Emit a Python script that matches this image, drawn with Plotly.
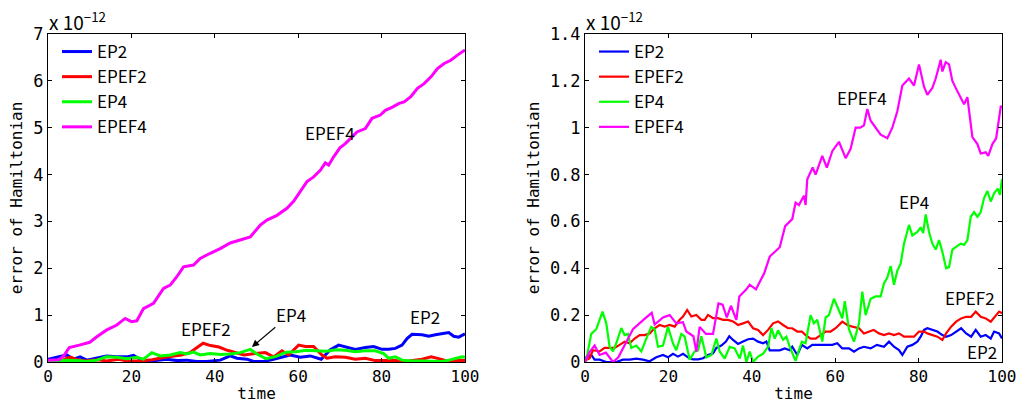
import plotly.graph_objects as go

# ---------------- data (error values in units of 1e-12) ----------------
# Left panel
L_ep2_t = [0, 2.1, 4.5, 6.1, 7.7, 9.3, 11.7, 14, 16.5, 18.9, 20.5, 22.1, 23.7, 26, 28.5, 30.9, 33.3, 35.7, 38, 41.3,
           43.7, 45.3, 47.7, 49.3, 51.7, 54.1, 56.5, 58.1, 60.5, 62.9, 65.5, 67.7, 69.7, 71.3, 73.7, 76.1, 78.1, 80.1,
           81.7, 83.3, 84.9, 86.1, 87.3, 89.7, 91.3, 92.9, 94.5, 96.1, 97.3, 98.5, 100]
L_ep2_v = [0.06, 0.1, 0.15, 0.06, 0.11, 0.04, 0.08, 0.13, 0.11, 0.11, 0.14, 0.06, 0.01, 0.03, 0.06, 0.03, 0.04, 0.01,
           0.01, 0.04, 0.13, 0.08, 0.06, 0.01, 0.01, 0.06, 0.11, 0.15, 0.1, 0.13, 0.06, 0.26, 0.36, 0.33, 0.27, 0.31,
           0.33, 0.27, 0.27, 0.29, 0.36, 0.50, 0.59, 0.58, 0.55, 0.58, 0.61, 0.63, 0.55, 0.53, 0.6]

L_epef2_t = [0, 3, 4.5, 5.5, 7, 9, 12, 14, 17, 19, 22, 25, 28, 30, 32, 34, 36, 37.2, 39, 41, 43, 45, 47, 49.7, 52.1,
             54.1, 56.1, 57.7, 60.1, 61.7, 63.7, 65.7, 66.9, 68.9, 71.3, 73.7, 76.1, 78.5, 80.9, 83.3, 85.7, 88.1,
             89.7, 91.9, 93.5, 95.1, 97.1, 98.5, 100]
L_epef2_v = [0, 0.01, 0.08, 0.1, 0.05, 0.02, 0.05, 0.02, 0.06, 0.02, 0.02, 0.05, 0.1, 0.13, 0.15, 0.2, 0.33, 0.4, 0.35,
             0.32, 0.25, 0.2, 0.15, 0.18, 0.2, 0.11, 0.24, 0.15, 0.36, 0.33, 0.33, 0.15, 0.08, 0.11, 0.1, 0.06, 0.08,
             0.03, 0.03, 0.03, 0.01, 0.04, 0.06, 0.11, 0.08, 0.04, 0.03, 0.04, 0.03]

L_ep4_t = [0, 4.5, 6.9, 9.3, 11.7, 14, 16.5, 18.9, 21.3, 22.9, 24.9, 26.9, 29.3, 31.7, 33.3, 34.9, 36.5, 38.9, 41.3,
           43.7, 46.1, 48.5, 50.1, 52.3, 54.7, 57.1, 59.5, 61.9, 64.3, 66.7, 69.1, 71.3, 73.7, 76.1, 78.5, 80.5, 81.7,
           83.3, 84.9, 87.3, 89.7, 92.1, 94.5, 96.1, 97.7, 99.3, 100]
L_ep4_v = [0.01, 0.04, 0.03, 0.01, 0.04, 0.11, 0.10, 0.07, 0.10, 0.06, 0.2, 0.13, 0.15, 0.2, 0.17, 0.21, 0.15, 0.18,
           0.16, 0.17, 0.2, 0.27, 0.17, 0.07, 0.12, 0.21, 0.22, 0.25, 0.24, 0.23, 0.26, 0.25, 0.22, 0.24, 0.24, 0.18,
           0.08, 0.11, 0.04, 0.02, 0.02, 0.02, 0.01, 0.04, 0.08, 0.11, 0.1]

L_epef4_t = [0, 2.7, 3.9, 5.1, 7.5, 10, 11.7, 14, 16.5, 18.5, 20, 21.3, 22.9, 25.3, 27.7, 29.3, 30.9, 32.5, 34.9, 36.5,
             38.9, 41.3, 43.7, 46.1, 48.5, 50.9, 52.5, 54.9, 57.3, 58.9, 60.5, 62.1, 63.7, 65.3, 66.5, 67.3, 68.5, 70,
             71.3, 72.5, 74.1, 76.1, 77.7, 79.7, 80.9, 82.6, 84.2, 85.4, 87, 88.6, 90.2, 91.8, 93.4, 95, 96.6, 98.2, 100]
L_epef4_v = [0.04, 0.05, 0.15, 0.31, 0.36, 0.42, 0.54, 0.68, 0.79, 0.93, 0.86, 0.88, 1.14, 1.25, 1.57, 1.64, 1.82,
             2.03, 2.07, 2.21, 2.32, 2.42, 2.54, 2.60, 2.67, 2.92, 3.03, 3.13, 3.28, 3.43, 3.63, 3.85, 3.95, 4.09, 4.25,
             4.2, 4.38, 4.57, 4.66, 4.77, 4.91, 4.98, 5.2, 5.27, 5.37, 5.44, 5.52, 5.55, 5.66, 5.84, 5.94, 6.08, 6.26,
             6.37, 6.44, 6.55, 6.66]

# Right panel
R_ep2_t = [0, 0.3, 1.5, 2.3, 3.5, 5.1, 7.5, 9.1, 10.7, 12.3, 13.9, 15.5, 17.1, 18.7, 19.9, 21.1, 22.3, 23.5, 24.7,
           25.9, 27.1, 28.3, 29.5, 30.7, 31.5, 32.7, 33.8, 34.6, 35.5, 36.7, 37.9, 39.1, 40.3, 41.5, 42.7, 43.5, 44.3,
           45.5, 46.7, 47.9, 49.1, 49.7, 50.9, 52, 53.3, 54.5, 56.1, 57.7, 59.3, 60.5, 61.7, 63.3, 64.5, 65.7, 66.9,
           68.5, 70, 71.7, 72.9, 74.1, 75.3, 76.1, 77.3, 78.5, 79.7, 80.5, 81.3, 82.1, 83.3, 84.5, 85.7, 86.6, 87.8,
           89, 90.2, 91.4, 92.6, 93.7, 94.9, 96.1, 97.3, 98.1, 99.3, 100]
R_ep2_v = [0, 0.02, 0.03, 0.01, 0.01, 0, 0, 0.01, 0.01, 0.014, 0.01, 0.003, 0.02, 0.03, 0.02, 0.035, 0.023, 0.035,
           0.02, 0.011, 0.011, 0.016, 0.03, 0.037, 0.06, 0.07, 0.087, 0.11, 0.094, 0.077, 0.087, 0.097, 0.1, 0.087,
           0.08, 0.087, 0.05, 0.05, 0.05, 0.058, 0.05, 0.065, 0.03, 0.073, 0.058, 0.073, 0.073, 0.073, 0.073, 0.08,
           0.058, 0.058, 0.044, 0.058, 0.065, 0.058, 0.073, 0.065, 0.087, 0.065, 0.051, 0.03, 0.065, 0.073, 0.087,
           0.108, 0.137, 0.144, 0.137, 0.13, 0.115, 0.108, 0.115, 0.13, 0.144, 0.122, 0.108, 0.137, 0.108, 0.115,
           0.1, 0.13, 0.122, 0.1]

R_epef2_t = [0, 0.3, 1.1, 1.9, 3.5, 4.7, 5.9, 7.1, 8.3, 9.5, 10.7, 11.9, 13.1, 14.3, 15.5, 16.7, 17.9, 19.1, 20.3,
             21.5, 22.7, 23.5, 24.5, 25.5, 26.7, 27.9, 28.7, 29.5, 30.7, 31.9, 33.1, 34.3, 35.5, 36.7, 37.9, 39.1,
             40.3, 41.5, 42.7, 43.9, 45.1, 46.3, 47.5, 48.7, 49.7, 50.9, 52, 52.9, 54.1, 55.3, 56.5, 57.7, 58.9, 60.1,
             61.7, 62.9, 64.1, 65.7, 66.9, 68.1, 69.2, 70.5, 71.7, 72.9, 74.1, 75.3, 76.5, 77.7, 78.9, 80.1, 81.3,
             82.1, 83.3, 84.5, 85.7, 86.6, 87.8, 89, 90.2, 91.4, 92.6, 93.7, 94.9, 96.1, 97.3, 98.5, 99.3, 100]
R_epef2_v = [0, 0.009, 0.016, 0.05, 0.045, 0.06, 0.06, 0.06, 0.073, 0.087, 0.08, 0.1, 0.115, 0.115, 0.122, 0.144,
             0.158, 0.151, 0.158, 0.151, 0.18, 0.194, 0.222, 0.194, 0.201, 0.18, 0.18, 0.201, 0.187, 0.187, 0.18, 0.18,
             0.173, 0.158, 0.165, 0.173, 0.144, 0.137, 0.115, 0.137, 0.165, 0.173, 0.158, 0.144, 0.144, 0.13, 0.13,
             0.115, 0.1, 0.1, 0.115, 0.13, 0.13, 0.144, 0.172, 0.158, 0.151, 0.144, 0.122, 0.13, 0.137, 0.122, 0.115,
             0.122, 0.115, 0.122, 0.108, 0.108, 0.108, 0.13, 0.13, 0.122, 0.115, 0.108, 0.094, 0.122, 0.151, 0.172,
             0.186, 0.193, 0.193, 0.215, 0.193, 0.186, 0.172, 0.201, 0.215, 0.208]

R_ep4_t = [0, 0.3, 1.5, 2.7, 3.5, 4.2, 5.1, 5.9, 6.7, 7.5, 8.7, 9.5, 10.3, 11.1, 12.3, 13.5, 14.7, 15.9, 16.7, 17.5,
           18.7, 19.9, 21.1, 21.9, 23.1, 23.9, 25.1, 26.3, 27.1, 27.9, 29.1, 30.3, 31.5, 32.3, 33.5, 34.7, 35.9, 37.1,
           37.9, 38.7, 39.5, 40.3, 41.5, 42.7, 43.9, 44.7, 45.5, 46.3, 47.5, 48.3, 49.1, 49.9, 50.5, 51.3, 52, 52.9,
           54.1, 54.9, 55.7, 56.9, 57.7, 58.5, 59.7, 60.9, 61.7, 62.3, 63.3, 64.5, 65.7, 66.5, 67.3, 68.5, 69.7, 70.9,
           71.7, 72.5, 73.3, 74.1, 74.9, 75.7, 76.5, 77.7, 78.5, 79.7, 80.5, 81.1, 81.7, 82.5, 83.3, 84.1, 84.9, 85.7,
           86.6, 87.3, 88.1, 88.9, 90.1, 90.9, 91.7, 92.5, 93.3, 94.1, 94.9, 95.7, 96.5, 97.3, 98.1, 99, 99.5, 100]
R_ep4_v = [0, 0.01, 0.12, 0.14, 0.18, 0.215, 0.165, 0.065, 0.045, 0.08, 0.145, 0.115, 0.12, 0.06, 0.07, 0.045, 0.1,
           0.15, 0.14, 0.065, 0.07, 0.15, 0.08, 0.05, 0.12, 0.108, 0.01, 0.045, 0.05, 0.11, 0.02, 0.03, 0.1, 0.045,
           0.015, 0.065, 0.058, 0.015, 0.07, 0, 0.045, 0, 0.023, 0.035, 0.065, 0.145, 0.1, 0.135, 0.095, 0.108, 0.065,
           0.03, 0.005, 0.05, 0.087, 0.08, 0.2, 0.165, 0.18, 0.087, 0.19, 0.2, 0.27, 0.22, 0.186, 0.26, 0.14, 0.087,
           0.165, 0.30, 0.2, 0.27, 0.28, 0.28, 0.335, 0.36, 0.41, 0.33, 0.39, 0.42, 0.505, 0.585, 0.54, 0.555, 0.575,
           0.55, 0.63, 0.555, 0.505, 0.48, 0.52, 0.47, 0.40, 0.405, 0.48, 0.49, 0.505, 0.5, 0.52, 0.62, 0.64, 0.62,
           0.64, 0.70, 0.73, 0.685, 0.72, 0.74, 0.713, 0.78]

R_epef4_t = [0, 1, 2.3, 3.5, 5, 6.7, 8, 9.5, 11.5, 14, 16, 16.7, 18.7, 20.3, 21.9, 23.5, 24.3, 26, 26.7, 27.5, 29,
             30.7, 32, 33, 34, 35, 36.3, 37, 38.7, 39.5, 41, 43, 44.3, 46.7, 48, 49.7, 50.5, 51.3, 52.5, 52.9, 53.3,
             54.6, 55.3, 56.9, 58, 59.3, 60.9, 62.5, 63.7, 64.9, 66, 66.9, 67.7, 68.5, 69.7, 70.9, 72.5, 73.7, 74.9,
             76.1, 77.7, 78.9, 80.1, 81.3, 82.1, 83.3, 84.1, 85.3, 85.7, 86.5, 87.3, 88.1, 88.9, 89.7, 90.9, 91.7,
             92.9, 94.1, 94.9, 96.1, 96.7, 97.7, 98.6, 99.7, 100]
R_epef4_v = [0, 0.04, 0.07, 0.03, 0.04, 0, 0.02, 0.07, 0.14, 0.18, 0.21, 0.16, 0.19, 0.2, 0.165, 0.17, 0.13, 0.11,
             0.044, 0.15, 0.12, 0.12, 0.25, 0.245, 0.19, 0.24, 0.18, 0.28, 0.31, 0.33, 0.31, 0.38, 0.45, 0.49, 0.58,
             0.61, 0.68, 0.67, 0.71, 0.67, 0.78, 0.83, 0.80, 0.88, 0.83, 0.90, 0.94, 0.87, 0.91, 1.00, 1.00, 1.01, 1.08,
             1.03, 1.00, 0.97, 0.955, 1.0, 1.07, 1.18, 1.21, 1.18, 1.27, 1.175, 1.14, 1.17, 1.21, 1.29, 1.24, 1.28,
             1.27, 1.2, 1.17, 1.14, 1.10, 1.13, 0.96, 0.93, 0.89, 0.895, 0.88, 0.93, 0.955, 1.09, 1.09]

names = ["EP2", "EPEF2", "EP4", "EPEF4"]
colors = ["#0000FF", "#FF0000", "#00FF00", "#FF00FF"]
x_ticks = [0, 20, 40, 60, 80, 100]
left_yticks = [0, 1, 2, 3, 4, 5, 6, 7]
right_yticks = [0, 0.2, 0.4, 0.6, 0.8, 1.0, 1.2, 1.4]
right_yticklabels = ["0", "0.2", "0.4", "0.6", "0.8", "1", "1.2", "1.4"]

left_series = [(L_ep2_t, L_ep2_v), (L_epef2_t, L_epef2_v), (L_ep4_t, L_ep4_v), (L_epef4_t, L_epef4_v)]
right_series = [(R_ep2_t, R_ep2_v), (R_epef2_t, R_epef2_v), (R_ep4_t, R_ep4_v), (R_epef4_t, R_epef4_v)]

# ---------------- figure ----------------
W, H = 1016, 406
TXT = "Noto Sans CJK JP"
MONO = "DejaVu Sans Mono"

fig = go.Figure()
for (t, v), n, c in zip(left_series, names, colors):
    fig.add_trace(go.Scatter(x=t, y=v, mode="lines", name=n, line=dict(color=c, width=3),
                             xaxis="x", yaxis="y", legend="legend"))
for (t, v), n, c in zip(right_series, names, colors):
    fig.add_trace(go.Scatter(x=t, y=v, mode="lines", name=n, line=dict(color=c, width=2.2),
                             xaxis="x2", yaxis="y2", legend="legend2"))

ax_common = dict(showline=True, linecolor="black", linewidth=1, mirror="ticks", ticks="inside",
                 ticklen=4, tickcolor="black", showgrid=False, zeroline=False,
                 ticklabeloverflow="allow", automargin=False)
xtick_font = dict(family=MONO, size=16, color="black")
ytick_font = dict(family=MONO, size=17, color="black")

ydom = [1 - 362 / H, 1 - 34 / H]
title_font = dict(family=MONO, size=16, color="black")
fig.update_layout(
    width=W, height=H, margin=dict(l=0, r=0, t=0, b=0),
    paper_bgcolor="white", plot_bgcolor="white", template="none",
    xaxis=dict(domain=[48 / W, 465 / W], range=[0, 100], tickvals=x_ticks, anchor="y", tickfont=xtick_font,
               title=dict(text="time", font=title_font, standoff=2), **ax_common),
    yaxis=dict(domain=ydom, range=[0, 7], tickvals=left_yticks, anchor="x", tickfont=ytick_font,
               title=dict(text="error of Hamiltonian", font=title_font, standoff=6), **ax_common),
    xaxis2=dict(domain=[585 / W, 1002 / W], range=[0, 100], tickvals=x_ticks, anchor="y2", tickfont=xtick_font,
                title=dict(text="time", font=title_font, standoff=2), **ax_common),
    yaxis2=dict(domain=ydom, range=[0, 1.4], tickvals=right_yticks, ticktext=right_yticklabels, anchor="x2",
                tickfont=ytick_font,
                title=dict(text="error of Hamiltonian", font=title_font, standoff=6), **ax_common),
    legend=dict(x=57 / W, y=1 - 34 / H, xanchor="left", yanchor="top", bgcolor="rgba(0,0,0,0)",
                font=dict(family=TXT, size=17, color="black"), tracegroupgap=0, itemwidth=30),
    legend2=dict(x=594 / W, y=1 - 34 / H, xanchor="left", yanchor="top", bgcolor="rgba(0,0,0,0)",
                 font=dict(family=TXT, size=17, color="black"), tracegroupgap=0, itemwidth=30),
    showlegend=True,
)

ann_font = dict(family=TXT, size=17, color="black")
mult_font = dict(family=TXT, size=19, color="black")
annotations = [
    dict(xref="x", yref="y", x=67.6, y=4.9, text="EPEF4", showarrow=False, font=ann_font),
    dict(xref="x", yref="y", x=37.9, y=0.72, text="EPEF2", showarrow=False, font=ann_font),
    dict(xref="x", yref="y", x=48.9, y=0.32, axref="x", ayref="y", ax=58.2, ay=1.02, text="EP4",
         showarrow=True, arrowhead=2, arrowsize=1.3, arrowwidth=1.1, arrowcolor="black", standoff=0,
         font=ann_font, borderpad=0),
    dict(xref="x", yref="y", x=90.4, y=0.98, text="EP2", showarrow=False, font=ann_font),
    dict(xref="x2", yref="y2", x=66.4, y=1.127, text="EPEF4", showarrow=False, font=ann_font),
    dict(xref="x2", yref="y2", x=78.9, y=0.683, text="EP4", showarrow=False, font=ann_font),
    dict(xref="x2", yref="y2", x=92.3, y=0.277, text="EPEF2", showarrow=False, font=ann_font),
    dict(xref="x2", yref="y2", x=95.2, y=0.043, text="EP2", showarrow=False, font=ann_font),
    dict(xref="paper", yref="paper", x=47 / W, y=1 - 37 / H, xanchor="left", yanchor="bottom",
         text="x 10<sup>−12</sup>", showarrow=False, font=mult_font),
    dict(xref="paper", yref="paper", x=584 / W, y=1 - 37 / H, xanchor="left", yanchor="bottom",
         text="x 10<sup>−12</sup>", showarrow=False, font=mult_font),
]
fig.update_layout(annotations=annotations)

fig.write_html("out.html", config={"displayModeBar": False},
               post_script="document.body.style.margin='0px';")
